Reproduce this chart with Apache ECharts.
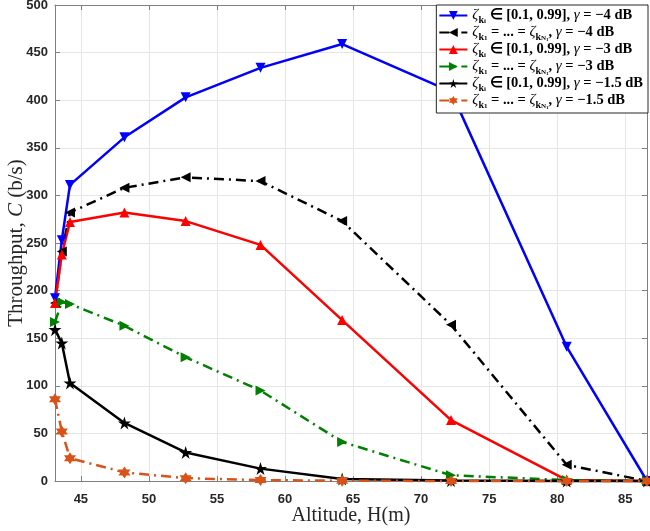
<!DOCTYPE html>
<html>
<head>
<meta charset="utf-8">
<script src="https://cdn.jsdelivr.net/npm/echarts@6/dist/echarts.min.js"></script>
<style>
html, body { margin: 0; padding: 0; background: #fff; }
#chart { width: 650px; height: 531px; }
</style>
</head>
<body>
<div id="chart"></div>
<script>
// altitude H (m) on the x axis
var altitude = [43.1, 43.6, 44.2, 48.2, 52.7, 58.2, 64.2, 72.2, 80.7, 86.6];

// throughput C (b/s)
var varM4 = [192, 253, 311, 361, 403, 434, 459, 409, 141, 0];
var eqM4 = [187, 241, 282, 308, 319, 315, 273, 164, 17, 0];
var varM3 = [187, 238, 272, 282, 273, 248, 169, 64, 1, 0];
var eqM3 = [167, 188, 186, 163, 130, 95, 41, 6, 1, 0];
var varM15 = [159, 145, 103, 61, 30, 13, 2, 0.5, 0, 0];
var eqM15 = [86, 52, 24, 9, 3, 1, 0.3, 0, 0, 0];

var seriesNames = [
	"zeta ki in [0.1,0.99], gamma=-4 dB",
	"zeta k1=...=zeta kN1, gamma=-4 dB",
	"zeta ki in [0.1,0.99], gamma=-3 dB",
	"zeta k1=...=zeta kN1, gamma=-3 dB",
	"zeta ki in [0.1,0.99], gamma=-1.5 dB",
	"zeta k1=...=zeta kN1, gamma=-1.5 dB"
];
var legendText = [
	"{g|ζ}{s|k}{ss|i}{b| ∈ [0.1, 0.99], }{g|γ}{b| = −4 dB}",
	"{g|ζ}{s|k}{ss|1}{b| = ... = }{g|ζ}{s|k}{ss|N}{sss|1}{b|, }{g|γ}{b| = −4 dB}",
	"{g|ζ}{s|k}{ss|i}{b| ∈ [0.1, 0.99], }{g|γ}{b| = −3 dB}",
	"{g|ζ}{s|k}{ss|1}{b| = ... = }{g|ζ}{s|k}{ss|N}{sss|1}{b|, }{g|γ}{b| = −3 dB}",
	"{g|ζ}{s|k}{ss|i}{b| ∈ [0.1, 0.99], }{g|γ}{b| = −1.5 dB}",
	"{g|ζ}{s|k}{ss|1}{b| = ... = }{g|ζ}{s|k}{ss|N}{sss|1}{b|, }{g|γ}{b| = −1.5 dB}"
];

var pentagram = "path://M50 0 L61.2 34.5 L97.6 34.5 L68.2 55.9 L79.4 90.5 L50 69.1 L20.6 90.5 L31.8 55.9 L2.4 34.5 L38.8 34.5 Z";
var hexagram = "path://M50 0 L64.4 25 L93.3 25 L78.9 50 L93.3 75 L64.4 75 L50 100 L35.6 75 L6.7 75 L21.1 50 L6.7 25 L35.6 25 Z";
var dashDot = [10, 5, 2, 5];

function pairs(ys) {
	var out = [];
	for (var i = 0; i < altitude.length; i++) {
		out.push([altitude[i], ys[i]]);
	}
	return out;
}

function mkSeries(idx, ys, color, dash, symbol, rot, size) {
	return {
		name : seriesNames[idx],
		type : "line",
		data : pairs(ys),
		clip : false,
		symbol : symbol,
		symbolRotate : rot,
		symbolSize : size,
		showAllSymbol : true,
		lineStyle : {
			color : color,
			width : 2.5,
			type : dash
		},
		itemStyle : {
			color : color
		},
		emphasis : {
			disabled : true
		},
		animation : false
	};
}

var axisGray = "#808080";
var tickFont = {
	fontFamily : "Liberation Sans",
	fontWeight : "bold",
	fontSize : 13,
	color : "#262626"
};
var legendRich = {
	b : {
		fontFamily : "Liberation Serif",
		fontWeight : "bold",
		fontSize : 14.5,
		lineHeight : 19,
		color : "#000"
	},
	g : {
		fontFamily : "Liberation Serif",
		fontStyle : "italic",
		fontSize : 15,
		lineHeight : 19,
		color : "#000"
	},
	s : {
		fontFamily : "Liberation Serif",
		fontWeight : "bold",
		fontSize : 10,
		verticalAlign : "bottom",
		color : "#000"
	},
	ss : {
		fontFamily : "Liberation Serif",
		fontWeight : "bold",
		fontSize : 7,
		verticalAlign : "bottom",
		color : "#000"
	},
	sss : {
		fontFamily : "Liberation Serif",
		fontWeight : "bold",
		fontSize : 5,
		verticalAlign : "bottom",
		color : "#000"
	}
};

var chart = echarts.init(document.getElementById("chart"));
var option = {
	backgroundColor : "#fff",
	animation : false,
	grid : {
		left : 55,
		right : 3,
		top : 5,
		bottom : 50,
		containLabel : false,
		outerBoundsMode : "none"
	},
	legend : {
		orient : "vertical",
		right : 2,
		top : 5,
		itemWidth : 28,
		itemHeight : 11,
		itemGap : 0,
		padding : [3, 5, 3, 2],
		backgroundColor : "#fff",
		borderColor : "#262626",
		borderWidth : 1,
		borderRadius : 0,
		data : seriesNames,
		formatter : function(name) {
			return legendText[seriesNames.indexOf(name)];
		},
		textStyle : {
			rich : legendRich
		}
	},
	xAxis : [ {
		type : "value",
		min : 43.1,
		max : 86.6,
		splitNumber : 9,
		name : "Altitude, H(m)",
		nameLocation : "middle",
		nameGap : 25,
		nameMoveOverlap : false,
		nameTextStyle : {
			fontFamily : "Liberation Serif",
			fontSize : 20,
			color : "#262626"
		},
		axisLine : {
			show : true,
			onZero : false,
			lineStyle : { color : axisGray }
		},
		axisTick : {
			show : true,
			inside : true,
			length : 5,
			lineStyle : { color : axisGray }
		},
		axisLabel : Object.assign({
			showMinLabel : false,
			showMaxLabel : false,
			margin : 12
		}, tickFont),
		splitLine : {
			show : true,
			lineStyle : { color : "#e6e6e6" }
		}
	}, {
		type : "value",
		position : "top",
		min : 43.1,
		max : 86.6,
		splitNumber : 9,
		axisLine : {
			show : true,
			onZero : false,
			lineStyle : { color : axisGray }
		},
		axisTick : {
			show : true,
			inside : true,
			length : 5,
			lineStyle : { color : axisGray }
		},
		axisLabel : { show : false },
		splitLine : { show : false }
	} ],
	yAxis : [ {
		type : "value",
		min : 0,
		max : 500,
		interval : 50,
		name : "Throughput, {i|C} (b/s)",
		nameLocation : "middle",
		nameGap : 28,
		nameMoveOverlap : false,
		nameTextStyle : {
			fontFamily : "Liberation Serif",
			fontSize : 21,
			color : "#262626",
			rich : {
				i : {
					fontFamily : "Liberation Serif",
					fontStyle : "italic",
					fontSize : 21,
					color : "#262626"
				}
			}
		},
		axisLine : {
			show : true,
			lineStyle : { color : axisGray }
		},
		axisTick : {
			show : true,
			inside : true,
			length : 5,
			lineStyle : { color : axisGray }
		},
		axisLabel : Object.assign({
			margin : 7
		}, tickFont),
		splitLine : {
			show : true,
			lineStyle : { color : "#e6e6e6" }
		}
	}, {
		type : "value",
		position : "right",
		min : 0,
		max : 500,
		interval : 50,
		axisLine : {
			show : true,
			lineStyle : { color : axisGray }
		},
		axisTick : {
			show : true,
			inside : true,
			length : 5,
			lineStyle : { color : axisGray }
		},
		axisLabel : { show : false },
		splitLine : { show : false }
	} ],
	series : [
		mkSeries(0, varM4, "#0000ff", "solid", "triangle", 180, 10),
		mkSeries(1, eqM4, "#000000", dashDot, "triangle", 90, 10),
		mkSeries(2, varM3, "#ff0000", "solid", "triangle", 0, 10),
		mkSeries(3, eqM3, "#008000", dashDot, "triangle", -90, 10),
		mkSeries(4, varM15, "#000000", "solid", pentagram, 0, 13),
		mkSeries(5, eqM15, "#d95319", dashDot, hexagram, 0, 12)
	]
};
chart.setOption(option);
window.addEventListener("resize", chart.resize);
</script>
</body>
</html>
